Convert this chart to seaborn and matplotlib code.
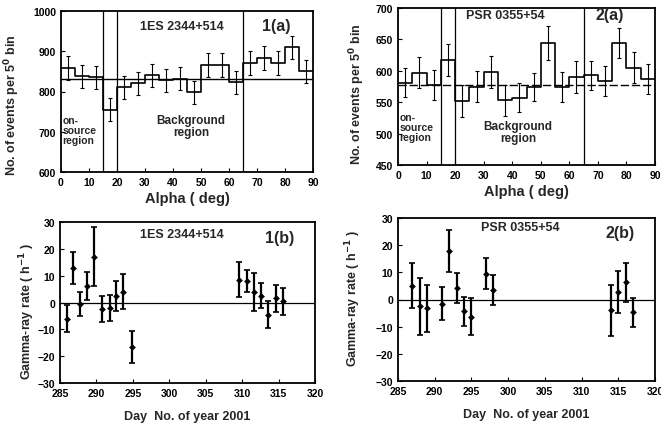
import numpy as np
import pandas as pd
import matplotlib
matplotlib.use("Agg")
import matplotlib.pyplot as plt
import seaborn as sns

# ---------------- data ----------------
alpha_edges = list(range(0, 95, 5))
alpha_centers = [2.5, 7.5, 12.5, 17.5, 22.5, 27.5, 32.5, 37.5, 42.5,
                 47.5, 52.5, 57.5, 62.5, 67.5, 72.5, 77.5, 82.5, 87.5]

counts_1es = [858, 838, 835, 755, 810, 820, 840, 828, 832,
              798, 866, 866, 823, 871, 883, 871, 910, 850]
err_1es = [29] * 18
level_1es = 830

counts_psr = [581, 597, 578, 617, 552, 575, 598, 553, 557,
              574, 644, 574, 590, 593, 584, 644, 605, 587]
err_psr = [23, 25, 24, 25, 26, 24, 25, 25, 23,
           22, 27, 24, 26, 23, 24, 24, 25, 24]
level_psr = 577

day_1es = [285.9, 286.8, 287.8, 288.7, 289.7, 290.7, 291.8, 292.7, 293.7, 294.9,
           309.6, 310.7, 311.6, 312.6, 313.6, 314.6, 315.6]
rate_1es = [-6.0, 13.0, -0.5, 6.0, 17.0, -2.5, -2.0, 2.5, 4.0, -16.5,
            8.5, 8.0, 4.0, 2.5, -4.5, 1.5, 0.5]
rerr_1es = [5.0, 6.0, 4.4, 5.2, 11.0, 4.9, 4.8, 5.6, 6.5, 5.9,
            6.5, 4.2, 7.0, 4.6, 4.9, 5.1, 5.0]

day_psr = [286.9, 288.0, 289.0, 291.0, 292.0, 293.0, 294.0, 295.0, 297.0, 298.0,
           314.0, 315.0, 316.0, 317.0]
rate_psr = [5.0, -2.5, -3.2, -1.5, 17.9, 4.3, -4.3, -6.3, 9.5, 3.6,
            -4.0, 2.7, 6.3, -4.7]
rerr_psr = [8.3, 10.5, 8.7, 6.0, 7.8, 5.6, 5.3, 6.7, 5.6, 5.5,
            9.4, 7.7, 7.1, 5.3]

# ---------------- style ----------------
sns.set_theme(style="ticks")
plt.rcParams['font.family'] = ['Liberation Sans', 'DejaVu Sans']
plt.rcParams['font.weight'] = 'bold'
plt.rcParams['axes.labelweight'] = 'bold'
plt.rcParams['axes.linewidth'] = 1.3
plt.rcParams['axes.edgecolor'] = 'black'
plt.rcParams['xtick.direction'] = 'in'
plt.rcParams['ytick.direction'] = 'in'
plt.rcParams['xtick.color'] = 'black'
plt.rcParams['ytick.color'] = 'black'

W, H = 661, 427
fig = plt.figure(figsize=(W / 100, H / 100), dpi=100)


def add_axes(left, top, right, bottom):
    return fig.add_axes([left / W, 1 - bottom / H, (right - left) / W, (bottom - top) / H])


ax1a = add_axes(61, 12, 313, 173)
ax2a = add_axes(398, 9, 655, 166)
ax1b = add_axes(60, 223, 315, 384)
ax2b = add_axes(398, 219, 655, 382)

tick_fs = 7.5
lab_fs = 9
ylab_a = "No. of events per 5$^{\\mathbf{0}}$ bin"
ylab_b = "Gamma-ray rate ( h$^{\\mathbf{-1}}$ )"


def alpha_panel(ax, counts, errs, level, ylim, yticks, src, tag, text_pos, on_pos, bg_pos,
                dashed=False):
    df = pd.DataFrame({"alpha": alpha_centers, "n": counts})
    sns.histplot(data=df, x="alpha", weights="n", bins=alpha_edges, element="step",
                 fill=False, color="black", linewidth=1.2, ax=ax, legend=False)
    ax.errorbar(alpha_centers, counts, yerr=errs, fmt="none", ecolor="black",
                elinewidth=0.8, capsize=1.5, capthick=0.8,
                linestyle=":" if dashed else "-")
    ax.axhline(level, color="black", lw=1.0, ls=(0, (6, 2)) if dashed else "-")
    for xv in (15, 20, 65):
        ax.axvline(xv, color="black", lw=0.9)
    ax.set_xlim(0, 90)
    ax.set_ylim(*ylim)
    ax.set_xticks(range(0, 100, 10))
    ax.set_yticks(yticks)
    ax.tick_params(labelsize=tick_fs, length=3, width=0.8)
    ax.set_xlabel("Alpha ( deg)", fontsize=10.5, labelpad=3)
    ax.set_ylabel(ylab_a, fontsize=lab_fs)
    ax.text(text_pos[0], text_pos[1], src, fontsize=9, fontweight="bold",
            ha="center", va="center")
    ax.text(text_pos[2], text_pos[1], tag, fontsize=11.5, fontweight="bold",
            ha="center", va="center")
    ax.text(on_pos[0], on_pos[1], "on-\nsource\nregion", fontsize=7.5, fontweight="bold",
            ha="left", va="center", linespacing=1.0)
    ax.text(bg_pos[0], bg_pos[1], "Background\nregion", fontsize=8.5, fontweight="bold",
            ha="center", va="center", linespacing=1.0)


alpha_panel(ax1a, counts_1es, err_1es, level_1es, (600, 1000), [600, 700, 800, 900, 1000],
            "1ES 2344+514", "1(a)", (43, 963, 77), (0.5, 704), (46.5, 714))
alpha_panel(ax2a, counts_psr, err_psr, level_psr, (450, 700), [450, 500, 550, 600, 650, 700],
            "PSR 0355+54", "2(a)", (37.5, 689, 74), (0.5, 510), (42, 503), dashed=True)


def rate_panel(ax, days, rates, errs, src, tag, src_pos, tag_pos):
    df = pd.DataFrame({"day": days, "rate": rates})
    ax.errorbar(days, rates, yerr=errs, fmt="none", ecolor="black",
                elinewidth=1.6, capsize=2.2, capthick=1.2)
    sns.scatterplot(data=df, x="day", y="rate", color="black", s=10, marker="D",
                    edgecolor="black", ax=ax, zorder=3)
    ax.axhline(0, color="black", lw=0.9)
    ax.set_xlim(285, 320)
    ax.set_ylim(-30, 30)
    ax.set_xticks(range(285, 325, 5))
    ax.set_yticks(range(-30, 40, 10))
    ax.tick_params(labelsize=tick_fs, length=3, width=0.8)
    ax.set_xlabel("Day  No. of year 2001", fontsize=lab_fs, labelpad=9)
    ax.set_ylabel(ylab_b, fontsize=lab_fs)
    ax.text(src_pos[0], src_pos[1], src, fontsize=9, fontweight="bold",
            ha="center", va="center")
    ax.text(tag_pos[0], tag_pos[1], tag, fontsize=11.5, fontweight="bold",
            ha="center", va="center")


rate_panel(ax1b, day_1es, rate_1es, rerr_1es, "1ES 2344+514", "1(b)", (301.7, 25.5), (315.2, 24.4))
rate_panel(ax2b, day_psr, rate_psr, rerr_psr, "PSR 0355+54", "2(b)", (301.6, 26.7), (315.2, 24.8))

# y-label placement (axes fraction), as in the reference
ax1a.yaxis.set_label_coords(-0.155, 0.42)
ax2a.yaxis.set_label_coords(-0.12, 0.46)
ax1b.yaxis.set_label_coords(-0.09, 0.45)
ax2b.yaxis.set_label_coords(-0.136, 0.51)

fig.savefig("out.png", dpi=100)
